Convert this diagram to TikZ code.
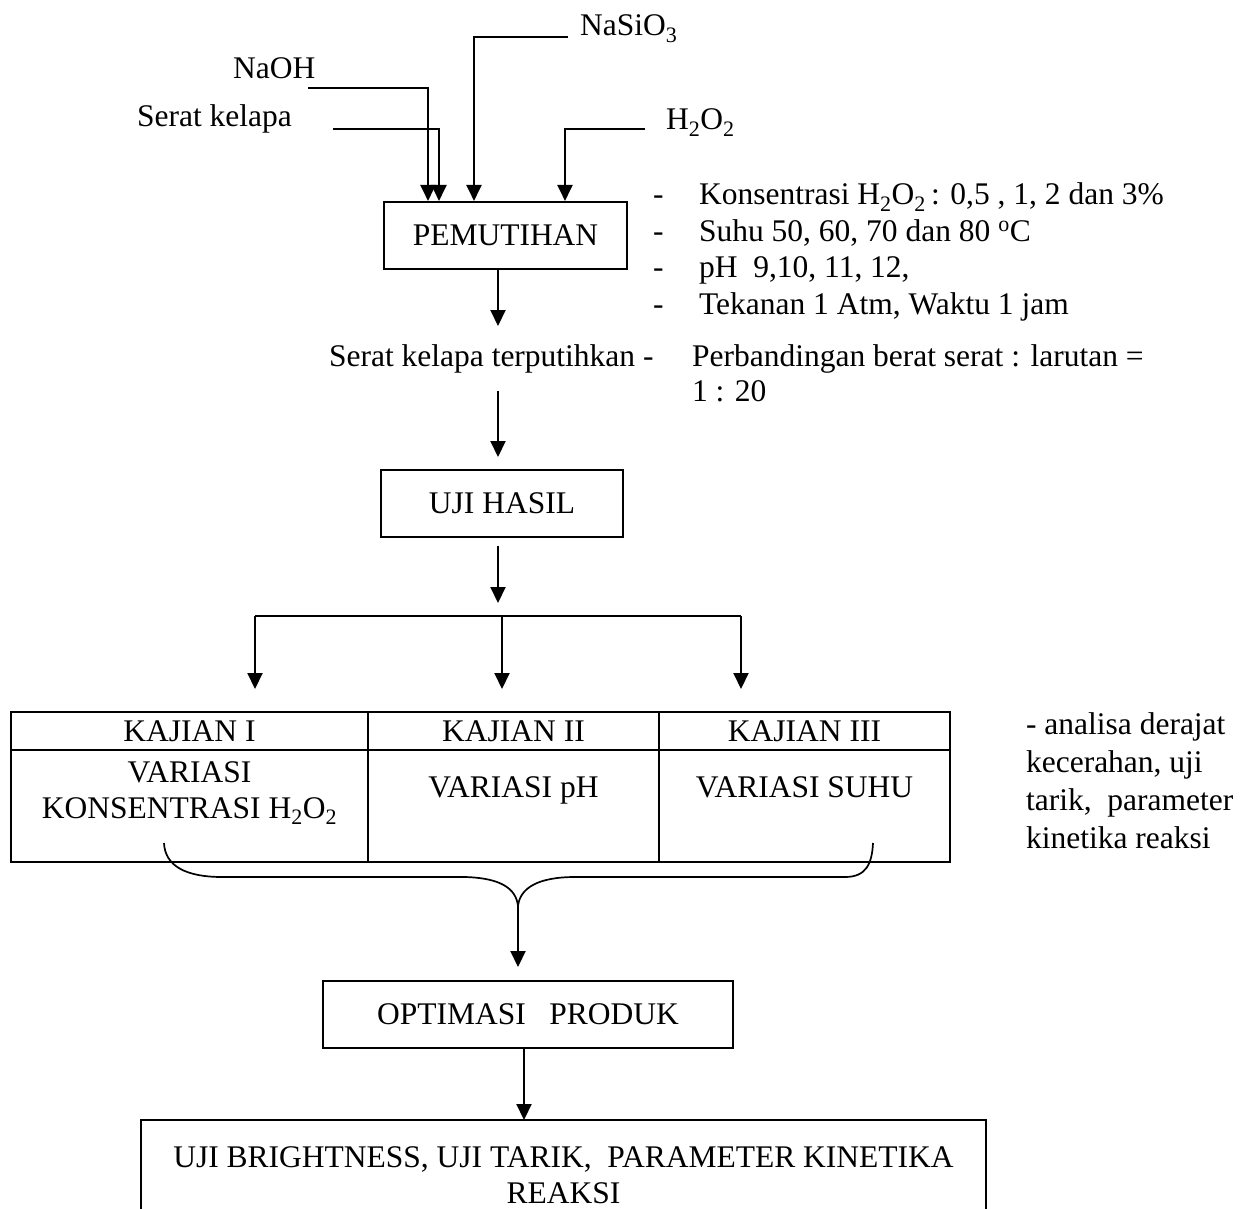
\documentclass[tikz,border=0pt]{standalone}
\usepackage{fontspec}
\setmainfont{Liberation Serif}
\usetikzlibrary{arrows.meta}
\begin{document}
\begin{tikzpicture}[x=1pt,y=-1pt, line width=2.1pt,
  font=\fontsize{31.5}{37}\selectfont,
  arr/.style={-{Triangle[length=16pt,width=15pt]}},
  box/.style={draw, inner sep=0pt, minimum height=67pt},
  cell/.style={draw, inner sep=0pt},
  lbl/.style={inner sep=0pt, anchor=base west},
  ctr/.style={inner sep=0pt, anchor=base},
  bracestyle/.style={line width=1.7pt}]
\useasboundingbox (0,0) rectangle (1250,1209);

% ---- inputs ----
\node[lbl] (nasio) at (579,36) {NaSiO\textsubscript{3}};
\node[lbl] (naoh) at (232,79) {NaOH};
\node[lbl] (serat) at (136,127) {Serat kelapa};
\node[lbl] (hoo) at (665,130) {H\textsubscript{2}O\textsubscript{2}};

\node[box, minimum width=243pt] (pem) at (505.5,235.5) {PEMUTIHAN};

\coordinate (nasioS) at (568,37);
\coordinate (naohS) at (308,88);
\coordinate (seratS) at (333,129);
\coordinate (hooS) at (645,129);
\coordinate (xnasio) at (474,0);
\coordinate (xnaoh) at (428,0);
\coordinate (xserat) at (439,0);
\coordinate (xhoo) at (565,0);
\draw[arr] (nasioS) -| (xnasio |- pem.north);
\draw[arr] (naohS) -| (xnaoh |- pem.north);
\draw[arr] (seratS) -| (xserat |- pem.north);
\draw[arr] (hooS) -| (xhoo |- pem.north);

% ---- conditions list ----
\node[lbl] (d1) at (652,205) {-};
\node[lbl] (l1) at (698,205) {Konsentrasi H\textsubscript{2}O\textsubscript{2}\,: 0,5 , 1, 2 dan 3\%};
\node[lbl] (d2) at (652,241) {-};
\node[lbl] (l2) at (698,241) {Suhu 50, 60, 70 dan 80 \textsuperscript{o}C};
\node[lbl] (d3) at (652,277) {-};
\node[lbl] (l3) at (698,277) {pH\ \ 9,10, 11, 12,};
\node[lbl] (d4) at (652,314) {-};
\node[lbl] (l4) at (698,314) {Tekanan 1 Atm, Waktu 1 jam};

\node[lbl] (ter) at (328,366) {Serat kelapa terputihkan -};
\node[lbl] (perb1) at (691,366) {Perbandingan berat serat : larutan =};
\node[lbl] (perb2) at (691,401) {1 : 20};

% ---- trunk arrows ----
\coordinate (trunk) at (498,0);
\coordinate (a1e) at (498,326);
\coordinate (a2s) at (498,391);
\coordinate (a2e) at (498,457);
\coordinate (a3s) at (498,546);
\coordinate (a3e) at (498,603);
\draw[arr] (trunk |- pem.south) -- (a1e);
\draw[arr] (a2s) -- (a2e);

\node[box, minimum width=242pt] (uji) at (502,503.5) {UJI HASIL};
\draw[arr] (a3s) -- (a3e);

% ---- branch ----
\coordinate (bl) at (255,616);
\coordinate (bm) at (502,616);
\coordinate (br) at (741,616);
\coordinate (tl) at (255,689);
\coordinate (tm) at (502,689);
\coordinate (tr) at (741,689);
\draw (bl) -- (br);
\draw[arr] (bl) -- (tl);
\draw[arr] (bm) -- (tm);
\draw[arr] (br) -- (tr);

% ---- table ----
\node[cell, minimum width=357pt, minimum height=38pt] (k1) at (189.5,731) {KAJIAN I};
\node[cell, minimum width=291pt, minimum height=38pt] (k2) at (513.5,731) {KAJIAN II};
\node[cell, minimum width=291pt, minimum height=38pt] (k3) at (804.5,731) {KAJIAN III};
\node[cell, minimum width=357pt, minimum height=112pt] (v1) at (189.5,806) {};
\node[cell, minimum width=291pt, minimum height=112pt] (v2) at (513.5,806) {};
\node[cell, minimum width=291pt, minimum height=112pt] (v3) at (804.5,806) {};
\node[ctr] (v1a) at (189.5,782.5) {VARIASI};
\node[ctr] (v1b) at (189.5,818.5) {KONSENTRASI H\textsubscript{2}O\textsubscript{2}};
\node[ctr] (v2a) at (513.5,797.5) {VARIASI pH};
\node[ctr] (v3a) at (804.5,797.5) {VARIASI SUHU};

% ---- notes right ----
\node[lbl] (an1) at (1025,734) {- analisa derajat};
\node[lbl] (an2) at (1025,772) {kecerahan, uji};
\node[lbl] (an3) at (1025,810) {tarik,\ \ parameter};
\node[lbl] (an4) at (1025,848) {kinetika reaksi};

% ---- brace ----
\coordinate (bs) at (164,843);
\coordinate (bt) at (518,906);
\coordinate (be) at (873,843);
\draw[bracestyle] (bs) .. controls (165,866) and (186,877) .. (222,877)
  -- (465,877) .. controls (500,878) and (516,888) .. (bt)
  .. controls (520,888) and (538,877) .. (575,877)
  -- (845,877) .. controls (866,877) and (872,864) .. (be);
\coordinate (bae) at (518,967);
\draw[arr] (bt) -- (bae);

% ---- optimasi ----
\node[box, minimum width=410pt] (opt) at (528,1014.5) {OPTIMASI\ \ \ PRODUK};
\coordinate (ox) at (524,0);
\coordinate (botT) at (524,1120);
\draw[arr] (ox |- opt.south) -- (botT);

% ---- bottom box (open at bottom) ----
\coordinate (bbl) at (141,1209);
\coordinate (bbtl) at (141,1120);
\coordinate (bbtr) at (986,1120);
\coordinate (bbr) at (986,1209);
\draw (bbl) -- (bbtl) -- (bbtr) -- (bbr);
\node[ctr] (bot1) at (563.5,1167.5) {UJI BRIGHTNESS, UJI TARIK,\ \ PARAMETER KINETIKA};
\node[ctr] (bot2) at (563.5,1203.5) {REAKSI};
\end{tikzpicture}
\end{document}
